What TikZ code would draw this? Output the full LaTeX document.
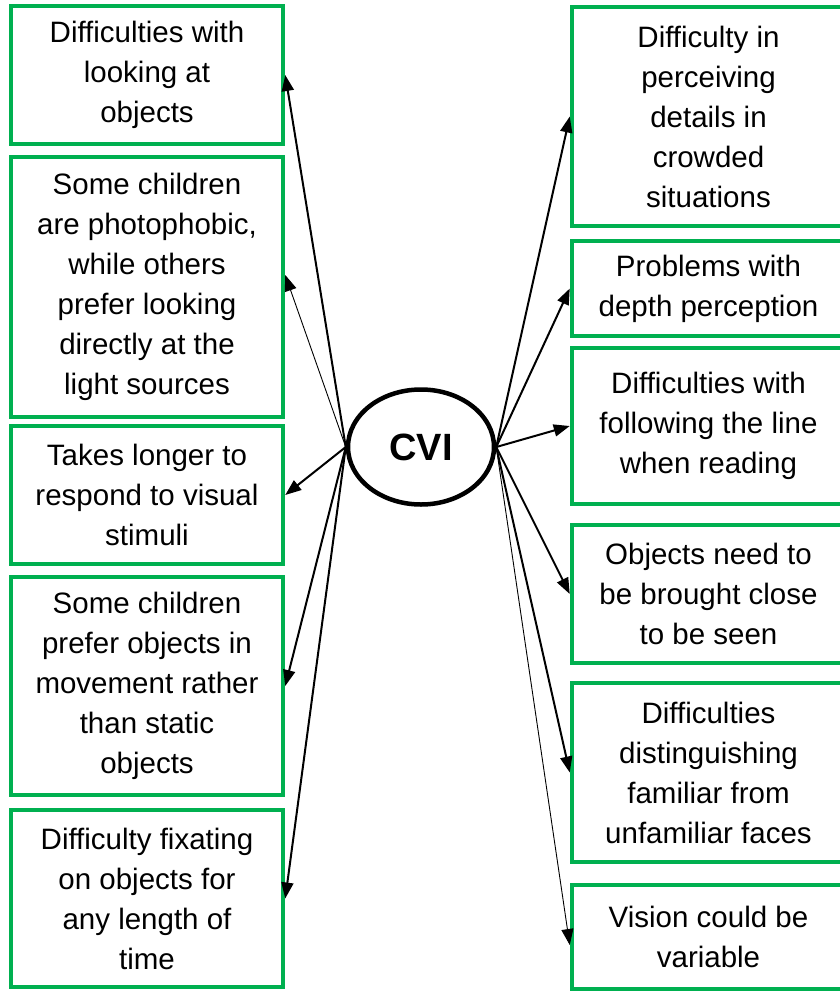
\documentclass[tikz,border=0pt]{standalone}
\usepackage{fontspec}
\setmainfont{Liberation Sans}
\usetikzlibrary{arrows.meta,calc,shapes.geometric}
\definecolor{boxgreen}{RGB}{0,176,80}
\begin{document}
\begin{tikzpicture}[x=1pt,y=-1pt,
  infobox/.style={draw=boxgreen, line width=4.5pt, rectangle, inner sep=0pt,
    align=center, font=\fontsize{29.5}{40}\selectfont},
  conn/.style={-{Triangle[length=16pt,width=12pt]}, line width=2pt},
  thinconn/.style={-{Triangle[length=16pt,width=12pt]}, line width=0.9pt}]
\useasboundingbox (0,0) rectangle (840,991);
\clip (0,0) rectangle (840,991);
% left boxes
\node[infobox, minimum width=272pt, minimum height=138pt] (L1) at (147,75)
  {Difficulties with\\looking at\\objects};
\node[infobox, minimum width=272pt, minimum height=260pt] (L2) at (147,287)
  {Some children\\are photophobic,\\while others\\prefer looking\\directly at the\\light sources};
\node[infobox, minimum width=272pt, minimum height=138pt] (L3) at (147,495)
  {Takes longer to\\respond to visual\\stimuli};
\node[infobox, minimum width=272pt, minimum height=218pt] (L4) at (147,686)
  {Some children\\prefer objects in\\movement rather\\than static\\objects};
\node[infobox, minimum width=272pt, minimum height=177pt] (L5) at (147,898.5)
  {Difficulty fixating\\on objects for\\any length of\\time};
% right boxes
\node[infobox, minimum width=273pt, minimum height=219pt] (R1) at (708.5,116.5)
  {Difficulty in\\perceiving\\details in\\crowded\\situations};
\node[infobox, minimum width=273pt, minimum height=95pt] (R2) at (708.5,288.5)
  {Problems with\\depth perception};
\node[infobox, minimum width=273pt, minimum height=156pt] (R3) at (708.5,426)
  {Difficulties with\\following the line\\when reading};
\node[infobox, minimum width=273pt, minimum height=138pt] (R4) at (708.5,594)
  {Objects need to\\be brought close\\to be seen};
\node[infobox, minimum width=273pt, minimum height=179pt] (R5) at (708.5,772.5)
  {Difficulties\\distinguishing\\familiar from\\unfamiliar faces};
\node[infobox, minimum width=273pt, minimum height=104pt] (R6) at (708.5,937)
  {Vision could be\\variable};
% centre
\node[draw, ellipse, line width=4.5pt, inner sep=0pt, minimum width=146pt,
  minimum height=115pt, font=\bfseries\fontsize{38}{40}\selectfont] (cvi) at (421,447) {CVI};
% connectors
\draw[conn] (cvi.west) -- (L1.east);
\draw[thinconn] (cvi.west) -- ($(L2.east)+(0,-12)$);
\draw[conn] (cvi.west) -- (L3.east);
\draw[conn] (cvi.west) -- (L4.east);
\draw[conn] (cvi.west) -- (L5.east);
\draw[conn] (cvi.east) -- (R1.west);
\draw[conn] (cvi.east) -- (R2.west);
\draw[conn] (cvi.east) -- (R3.west);
\draw[conn] (cvi.east) -- (R4.west);
\draw[conn] (cvi.east) -- (R5.west);
\draw[thinconn] (cvi.east) -- ($(R6.west)+(0,8)$);
\end{tikzpicture}
\end{document}
